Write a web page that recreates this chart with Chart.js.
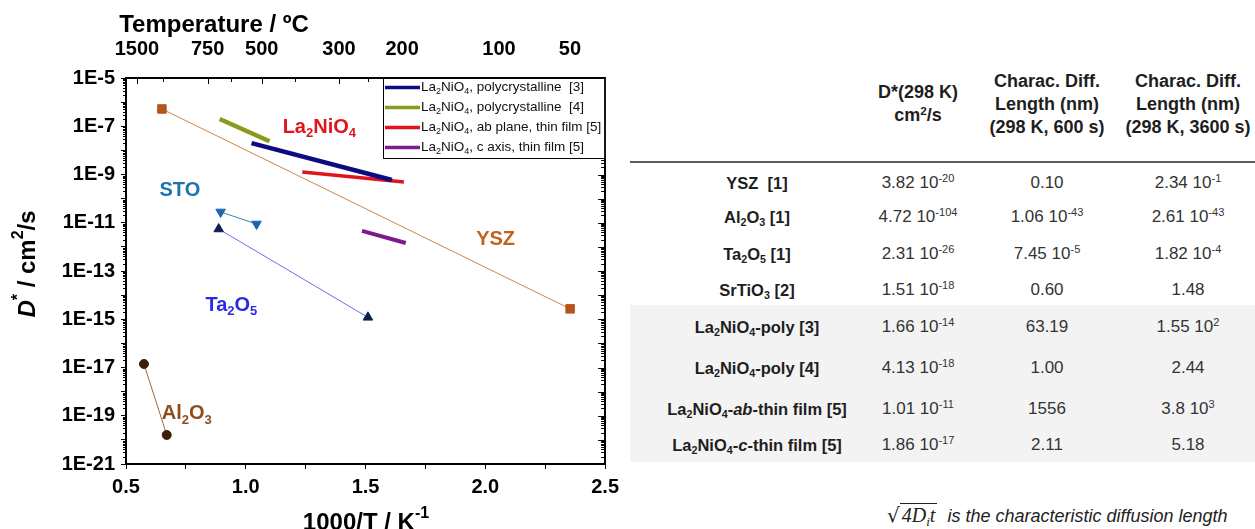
<!DOCTYPE html>
<html>
<head>
<meta charset="utf-8">
<script src="https://cdn.jsdelivr.net/npm/chart.js@4.4.1/dist/chart.umd.min.js"></script>
<style>
  html, body { margin: 0; padding: 0; background: #fff; }
  body { width: 1255px; height: 529px; position: relative; overflow: hidden;
         font-family: "Liberation Sans", Arial, sans-serif; color: #1e1e1e; }
  #plot { position: absolute; left: 0; top: 0; }
  #table { position: absolute; left: 630px; top: 0; width: 625px; height: 529px; }
  #table .rule { position: absolute; left: 0; right: 0; top: 161px; border-top: 2px solid #5a5a5a; }
  #table .band { position: absolute; left: 0; right: 0; top: 305px; height: 157px; background: #f3f3f3; }
  #table .cell { position: absolute; transform: translate(-50%, -50%); white-space: nowrap; text-align: center; }
  #table .head { font-weight: bold; font-size: 18px; line-height: 23px; }
  #table .name { font-weight: bold; font-size: 16.5px; }
  #table .val { font-size: 17px; color: #333; }
  sub, sup { font-size: 65%; line-height: 0; position: relative; }
  sub { vertical-align: -0.3em; }
  sup { vertical-align: 0.5em; }
  #note { position: absolute; left: 887px; top: 503px; white-space: nowrap; font-style: italic; font-size: 18px; color: #222; }
  #note .rad { font-family: "DejaVu Serif", "Liberation Serif", serif; font-style: normal; font-size: 20px; }
  #note .ov { border-top: 1px solid #222; font-family: "Liberation Serif", serif; font-style: italic; font-size: 20px; padding: 0 2px; }
</style>
</head>
<body>
<canvas id="plot" width="625" height="529"></canvas>
<div id="table">
  <div class="band"></div>
  <div class="rule"></div>
</div>
<div id="note"><span class="rad">√</span><span class="ov">4D<sub>i</sub>t</span>&nbsp;&nbsp;is the characteristic diffusion length</div>
<script>
// Arrhenius data: x = 1000/T (K^-1), y = D* (cm2/s)
const yszInvT = [0.65, 2.354];
const yszD = [5.2e-7, 2.7e-15];
const stoInvT = [0.895, 1.045];
const stoD = [2.8e-11, 8.9e-12];
const ta2o5InvT = [0.887, 1.51];
const ta2o5D = [5.5e-12, 1.2e-15];
const al2o3InvT = [0.575, 0.67];
const al2o3D = [1.4e-17, 1.6e-20];
const lnoPoly3InvT = [1.024, 1.61];
const lnoPoly3D = [2.0e-8, 5.9e-10];
const lnoPoly4InvT = [0.891, 1.099];
const lnoPoly4D = [2.0e-7, 2.4e-8];
const lnoAbInvT = [1.236, 1.66];
const lnoAbD = [1.26e-9, 4.9e-10];
const lnoCInvT = [1.485, 1.668];
const lnoCD = [4.6e-12, 1.45e-12];

// top axis: temperatures in degC
const tempTicks = [1500, 750, 500, 300, 200, 100, 50];
const tempMinorTicks = [1125, 625, 400, 250, 160, 75];
const decades = [-21, -20, -19, -18, -17, -16, -15, -14, -13, -12, -11, -10, -9, -8, -7, -6, -5];

// table
const tableRows = ['YSZ  [1]', 'Al_2O_3 [1]', 'Ta_2O_5 [1]', 'SrTiO_3 [2]', 'La_2NiO_4-poly [3]',
  'La_2NiO_4-poly [4]', 'La_2NiO_4-|ab|-thin film [5]', 'La_2NiO_4-|c|-thin film [5]'];
const dStar298 = ['3.82e-20', '4.72e-104', '2.31e-26', '1.51e-18', '1.66e-14', '4.13e-18', '1.01e-11', '1.86e-17'];
const len600s = ['0.10', '1.06e-43', '7.45e-5', '0.60', '63.19', '1.00', '1556', '2.11'];
const len3600s = ['2.34e-1', '2.61e-43', '1.82e-4', '1.48', '1.55e2', '2.44', '3.8e3', '5.18'];
const tableHeads = ['', 'D*(298 K)<br>cm<sup>2</sup>/s', 'Charac. Diff.<br>Length (nm)<br>(298 K, 600 s)',
  'Charac. Diff.<br>Length (nm)<br>(298 K, 3600 s)'];

const FONT = '"Liberation Sans", Arial, sans-serif';
const invT = t => 1000 / (t + 273.15);
const pts = (xs, ys) => xs.map((x, i) => ({x, y: ys[i]}));

// mini markup: _x / _{..} subscript, ^x / ^{..} superscript, |..| italic
function richSegments(str) {
  const segs = [];
  let italic = false, buf = '';
  const flush = () => { if (buf) segs.push({t: buf, k: 'n', it: italic}); buf = ''; };
  for (let i = 0; i < str.length; i++) {
    const c = str[i];
    if (c === '_' || c === '^') {
      flush();
      let grp;
      if (str[i + 1] === '{') { const j = str.indexOf('}', i); grp = str.slice(i + 2, j); i = j; }
      else { grp = str[i + 1]; i++; }
      segs.push({t: grp, k: c === '_' ? 'sub' : 'sup', it: italic});
    } else if (c === '|') { flush(); italic = !italic; }
    else buf += c;
  }
  flush();
  return segs;
}

function richHtml(str) {
  return richSegments(str).map(s => {
    let t = s.t.replace(/  /g, '&nbsp; ');
    if (s.it) t = '<i>' + t + '</i>';
    return s.k === 'sub' ? '<sub>' + t + '</sub>' : s.k === 'sup' ? '<sup>' + t + '</sup>' : t;
  }).join('');
}

function drawRich(ctx, str, x, y, opt) {
  const {size, weight = 'bold', color = '#000', align = 'left'} = opt;
  const segs = richSegments(str);
  const fontFor = s => (s.it ? 'italic ' : '') + weight + ' ' + (s.k === 'n' ? size : Math.round(size * 0.65)) + 'px ' + FONT;
  let w = 0;
  segs.forEach(s => { ctx.font = fontFor(s); s.w = ctx.measureText(s.t).width; w += s.w; });
  let cx = align === 'center' ? x - w / 2 : align === 'right' ? x - w : x;
  ctx.fillStyle = color;
  ctx.textBaseline = 'middle';
  ctx.textAlign = 'left';
  segs.forEach(s => {
    ctx.font = fontFor(s);
    const dy = s.k === 'sub' ? size * 0.32 : s.k === 'sup' ? -size * 0.4 : 0;
    ctx.fillText(s.t, cx, y + dy);
    cx += s.w;
  });
}

const regionLabels = [
  {text: 'La_2NiO_4', x: 1.307, y: 9.3e-8, color: '#e0141e'},
  {text: 'STO', x: 0.725, y: 2.1e-10, color: '#1f72b0'},
  {text: 'YSZ', x: 2.043, y: 2.1e-12, color: '#c2621c'},
  {text: 'Ta_2O_5', x: 0.94, y: 3.9e-15, color: '#2a2ae8'},
  {text: 'Al_2O_3', x: 0.754, y: 1.2e-19, color: '#8e4c1c'}
];

const extras = {
  id: 'extras',
  afterDraw(chart) {
    const ctx = chart.ctx;
    const {x, y, xTop} = chart.scales;
    const area = chart.chartArea;
    ctx.save();
    ctx.strokeStyle = '#000';
    ctx.lineWidth = 1;
    const tick = (x1, y1, x2, y2) => { ctx.beginPath(); ctx.moveTo(x1, y1); ctx.lineTo(x2, y2); ctx.stroke(); };

    // log minor ticks on left (outside) and right (inside), major inside on right
    decades.forEach(e => {
      const py = Math.round(y.getPixelForValue(Math.pow(10, e))) + 0.5;
      tick(area.right - 7, py, area.right, py);
      if (e === decades[decades.length - 1]) return;
      for (let m = 2; m <= 9; m++) {
        const my = Math.round(y.getPixelForValue(m * Math.pow(10, e))) + 0.5;
        tick(area.left - 3, my, area.left, my);
        tick(area.right - 4, my, area.right, my);
      }
    });
    // top axis ticks, pointing inward
    tempTicks.forEach(t => { const px = Math.round(xTop.getPixelForValue(invT(t))) + 0.5; tick(px, area.top, px, area.top + 6); });
    tempMinorTicks.forEach(t => { const px = Math.round(xTop.getPixelForValue(invT(t))) + 0.5; tick(px, area.top, px, area.top + 4); });

    // material labels
    regionLabels.forEach(l => drawRich(ctx, l.text, x.getPixelForValue(l.x), y.getPixelForValue(l.y), {size: 20, color: l.color, align: 'center'}));

    // legend box, top right of plot
    const items = chart.data.datasets.filter(d => d.legendText);
    const lx = 383, ly = area.top, lw = area.right - lx, lh = 81;
    ctx.fillStyle = '#fff';
    ctx.fillRect(lx, ly, lw, lh);
    ctx.strokeStyle = '#000';
    ctx.lineWidth = 1;
    ctx.strokeRect(lx + 0.5, ly + 0.5, lw - 1, lh - 1);
    items.forEach((d, i) => {
      const iy = ly + 9.5 + i * 20;
      ctx.strokeStyle = d.borderColor;
      ctx.lineWidth = 3.5;
      tick(lx + 2, iy, lx + 37, iy);
      drawRich(ctx, d.legendText, lx + 38, iy, {size: 13.5, weight: 'normal', color: '#111'});
    });

    // titles
    drawRich(ctx, 'Temperature / ºC', 214, 25, {size: 24, align: 'center'});
    drawRich(ctx, '1000/T / K^{-1}', 366, 523, {size: 24, align: 'center'});
    ctx.translate(28, 264);
    ctx.rotate(-Math.PI / 2);
    drawRich(ctx, '|D|^* / cm^2/s', 0, 0, {size: 24, align: 'center'});
    ctx.restore();
  }
};

Chart.defaults.font.family = FONT;
Chart.defaults.color = '#000';

new Chart(document.getElementById('plot'), {
  type: 'scatter',
  data: {
    datasets: [
      {data: pts(lnoPoly3InvT, lnoPoly3D), legendText: 'La_2NiO_4, polycrystalline  [3]', borderColor: '#0c0c82', borderWidth: 4.5, pointRadius: 0, showLine: true},
      {data: pts(lnoPoly4InvT, lnoPoly4D), legendText: 'La_2NiO_4, polycrystalline  [4]', borderColor: '#8c9a1c', borderWidth: 4.5, pointRadius: 0, showLine: true},
      {data: pts(lnoAbInvT, lnoAbD), legendText: 'La_2NiO_4, ab plane, thin film [5]', borderColor: '#e0141e', borderWidth: 3.5, pointRadius: 0, showLine: true},
      {data: pts(lnoCInvT, lnoCD), legendText: 'La_2NiO_4, c axis, thin film [5]', borderColor: '#7d1a8e', borderWidth: 4, pointRadius: 0, showLine: true},
      {data: pts(yszInvT, yszD), borderColor: '#cd8447', borderWidth: 1, showLine: true,
        pointStyle: 'rect', pointRadius: 6, backgroundColor: '#b4561c', pointBorderColor: '#b4561c'},
      {data: pts(stoInvT, stoD), borderColor: '#2f86a8', borderWidth: 1, showLine: true,
        pointStyle: 'triangle', pointRotation: 180, pointRadius: 5.5, backgroundColor: '#1c66ad', pointBorderColor: '#1c66ad'},
      {data: pts(ta2o5InvT, ta2o5D), borderColor: '#6a6af0', borderWidth: 1, showLine: true,
        pointStyle: 'triangle', pointRadius: 5.5, backgroundColor: '#0f1f4d', pointBorderColor: '#0f1f4d'},
      {data: pts(al2o3InvT, al2o3D), borderColor: '#9a6a3a', borderWidth: 1, showLine: true,
        pointStyle: 'circle', pointRadius: 4.5, backgroundColor: '#3c1f0e', pointBorderColor: '#3c1f0e'}
    ]
  },
  options: {
    responsive: false,
    animation: false,
    layout: {padding: 0},
    plugins: {legend: {display: false}, tooltip: {enabled: false}},
    scales: {
      x: {
        type: 'linear', position: 'bottom', min: 0.5, max: 2.5,
        afterFit: s => { s.height = 65; },
        grid: {drawOnChartArea: false, tickLength: 5, color: '#000'},
        border: {color: '#000', width: 2},
        ticks: {stepSize: 0.25, autoSkip: false, maxRotation: 0, padding: 6, font: {size: 20, weight: 'bold'},
          callback: v => Math.abs(v * 2 - Math.round(v * 2)) < 1e-9 ? v.toFixed(1) : ''}
      },
      xTop: {
        type: 'linear', position: 'top', min: 0.5, max: 3.3,
        afterFit: s => { s.height = 78; },
        afterBuildTicks: s => { s.ticks = tempTicks.map(t => ({value: invT(t)})); },
        grid: {display: false},
        border: {color: '#000', width: 2},
        ticks: {autoSkip: false, maxRotation: 0, padding: 9, font: {size: 20, weight: 'bold'},
          callback: (v, i) => String(tempTicks[i])}
      },
      y: {
        type: 'logarithmic', position: 'left', min: 1e-21, max: 1e-5,
        afterFit: s => { s.width = 126; },
        afterBuildTicks: s => { s.ticks = decades.map(e => ({value: Math.pow(10, e)})); },
        grid: {drawOnChartArea: false, tickLength: 5, color: '#000'},
        border: {color: '#000', width: 2},
        ticks: {autoSkip: false, padding: 6, font: {size: 20, weight: 'bold'},
          callback: v => { const e = Math.round(Math.log10(v)); return Math.abs(e) % 2 === 1 ? '1E' + e : ''; }}
      },
      yR: {
        type: 'logarithmic', position: 'right', min: 1e-21, max: 1e-5,
        afterFit: s => { s.width = 18; },
        grid: {display: false},
        border: {color: '#000', width: 2},
        ticks: {display: false}
      }
    }
  },
  plugins: [extras]
});

// table on the right
const colCenters = [127, 288, 417, 558];
const rowCenters = [183, 217, 254, 290, 327, 368, 409, 445];
const table = document.getElementById('table');
const addCell = (cls, html, cx, cy) => {
  const d = document.createElement('div');
  d.className = 'cell ' + cls;
  d.innerHTML = html;
  d.style.left = cx + 'px';
  d.style.top = cy + 'px';
  table.appendChild(d);
};
const fmtSci = s => { const [m, e] = s.split('e'); return e === undefined ? m : m + ' 10<sup>' + e + '</sup>'; };
tableHeads.forEach((h, c) => { if (h) addCell('head', h, colCenters[c], 104); });
tableRows.forEach((name, r) => {
  addCell('name', richHtml(name), colCenters[0], rowCenters[r]);
  [dStar298, len600s, len3600s].forEach((col, c) => addCell('val', fmtSci(col[r]), colCenters[c + 1], rowCenters[r]));
});
</script>
</body>
</html>
